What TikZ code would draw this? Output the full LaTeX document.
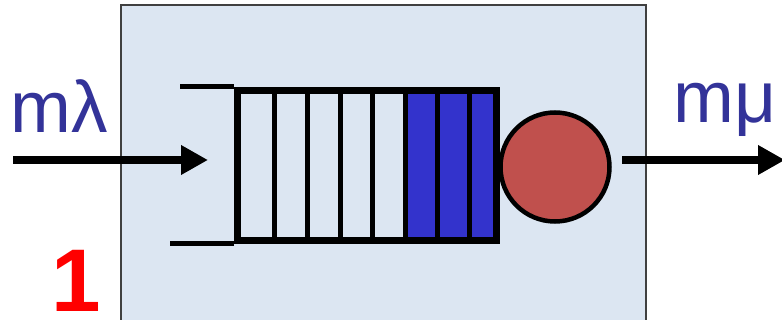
\documentclass[tikz,border=0pt]{standalone}
\usepackage{fontspec}
\setmainfont{Liberation Sans}
\usetikzlibrary{arrows.meta}
\definecolor{boxfill}{HTML}{DCE6F2}
\definecolor{ratecol}{HTML}{333399}
\definecolor{jobcol}{HTML}{3333CC}
\definecolor{servcol}{HTML}{C0504D}
\tikzset{
  flow/.style={line width=8pt,-{Triangle[length=27pt,width=28pt]}},
  rate/.style={text=ratecol,inner sep=0pt,anchor=base west,font=\fontsize{73}{73}\selectfont},
  queuebox/.style={draw,line width=7pt,minimum width=259pt,minimum height=150pt,inner sep=0pt},
  divider/.style={line width=5pt},
  server/.style={circle,draw,line width=4.5pt,fill=servcol,minimum size=109pt,inner sep=0pt}
}
\begin{document}
\begin{tikzpicture}[x=1pt,y=-1pt]
  \useasboundingbox (0,0) rectangle (782,320);
  \clip (0,0) rectangle (782,320);
  % station box
  \draw[fill=boxfill,draw=black!75,line width=1.8pt] (121,5) rectangle (646,340);
  % waiting jobs
  \fill[jobcol] (405,90.5) rectangle (496.5,240.5);
  \node[queuebox] (queue) at (367,165.5) {};
  \foreach \x in {274,307,340,372,405,437,469}
    \draw[divider] (\x,90.5) -- (\x,240.5);
  \draw[divider] (queue.north west) -- ++(-54.5,0);
  \draw[divider] (queue.south west) -- ++(-64.5,0);
  \node[server] (srv) at (555,167) {};
  % arrivals and departures
  \coordinate (arrin) at (13,160);
  \coordinate (arrtip) at (208,160);
  \coordinate (depin) at (622,160);
  \coordinate (deptip) at (785,160);
  \draw[flow] (arrin) -- (arrtip);
  \draw[flow] (depin) -- (deptip);
  \node[rate] (lam) at (10,133) {mλ};
  \node[rate] (mu) at (673,123) {mμ};
  \node[text=red,inner sep=0pt,anchor=base west,font=\bfseries\fontsize{89}{89}\selectfont] (num) at (51,312) {1};
\end{tikzpicture}
\end{document}
